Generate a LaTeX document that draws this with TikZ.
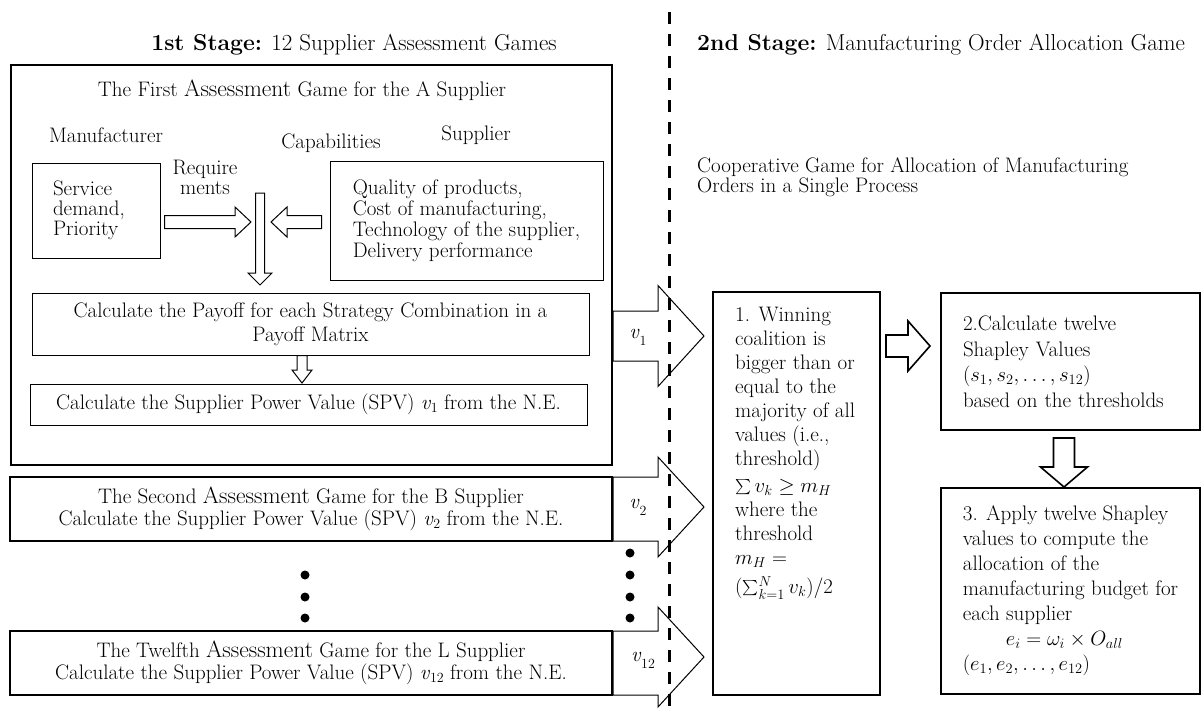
\documentclass[tikz,border=0pt]{standalone}
\usepackage{amsmath,amssymb}
\usepackage{fontspec}
\usepackage{tikz}
\usetikzlibrary{positioning,calc}
\newcommand{\bodyfont}{\fontsize{21}{22}\selectfont}
\newcommand{\titlefont}{\fontsize{23}{26}\selectfont}
\newcommand{\assess}{{\fontsize{23.5}{24}\selectfont Assessment}}
\newcommand{\vsub}[1]{\textit{v}\raisebox{-0.35ex}{\fontsize{14}{14}\selectfont #1}}
\newcommand{\vlabel}[1]{\textit{v}\raisebox{-0.8ex}{\fontsize{14}{14}\selectfont #1}}
\newcommand{\smallsum}{\mathop{\raisebox{0.15ex}{\scalebox{0.72}{$\sum$}}}}
\tikzstyle{gamebox}=[rectangle, draw, line width=2pt, inner sep=0pt, font=\bodyfont]
\tikzstyle{stepbox}=[rectangle, draw, line width=1pt, inner sep=0pt, font=\bodyfont]
\tikzstyle{gamerow}=[rectangle, draw, line width=2pt, inner sep=0pt, align=center, font=\bodyfont]
\tikzstyle{labeltext}=[inner sep=0pt, font=\bodyfont]
\tikzstyle{hollow}=[draw, line width=1pt, line join=miter]
\tikzstyle{stageline}=[line width=3pt, dash pattern=on 12pt off 10pt]
\tikzstyle{bigdot}=[circle, fill=black, minimum size=9pt, inner sep=0pt]
\newcommand{\hollowh}[6][]{%
  \draw[hollow,#1] let \p1=(#2), \p2=(#3), \n1={ifthenelse(\x2>\x1,1,-1)} in
    (\x1,\y1+#4) -- (\x2-\n1*#6,\y1+#4) -- (\x2-\n1*#6,\y2+#5) -- (\x2,\y2)
    -- (\x2-\n1*#6,\y2-#5) -- (\x2-\n1*#6,\y1-#4) -- (\x1,\y1-#4) -- cycle;}
\newcommand{\hollowv}[6][]{%
  \draw[hollow,#1] let \p1=(#2), \p2=(#3), \n1={ifthenelse(\y2>\y1,1,-1)} in
    (\x1+#4,\y1) -- (\x1+#4,\y2-\n1*#6) -- (\x2+#5,\y2-\n1*#6) -- (\x2,\y2)
    -- (\x2-#5,\y2-\n1*#6) -- (\x1-#4,\y2-\n1*#6) -- (\x1-#4,\y1) -- cycle;}
\begin{document}
\begin{tikzpicture}[x=1pt,y=-1pt]
  \useasboundingbox (0,0) rectangle (1202,712);
  \node[labeltext, font=\titlefont] (stage1) at (354,45) {\textbf{1st Stage:} 12 Supplier Assessment Games};
  \node[labeltext, font=\titlefont, anchor=west] (stage2) at (697,45) {\textbf{2nd Stage:} Manufacturing Order Allocation Game};
  \node[gamebox, minimum width=601, minimum height=400] (game1) at (311.5,265) {};
  \node[labeltext] (game1head) at (302,90) {The First \assess{} Game for the A Supplier};
  \node[labeltext] (manu) at (106,135) {Manufacturer};
  \node[labeltext] (capab) at (331,143) {Capabilities};
  \node[labeltext] (supp) at (476,135) {Supplier};
  \node[labeltext, align=center, font=\fontsize{21}{20}\selectfont] (req) at (205,177) {Require\\ments};
  \node[stepbox, minimum width=128, minimum height=95, text width=86, align=left, font=\fontsize{21}{20}\selectfont] (demand) at (96,210.5) {Service\\demand,\\Priority};
  \node[stepbox, minimum width=273, minimum height=119, align=left, font=\fontsize{21}{21}\selectfont] (capset) at (466.5,220.5) {Quality of products,\\Cost of manufacturing,\\Technology of the supplier,\\Delivery performance};
  \node[stepbox, minimum width=557, minimum height=62, align=center, font=\fontsize{21}{24}\selectfont] (payoff) at (310.5,324) {Calculate the Payoff for each Strategy Combination in a\\Payoff Matrix};
  \node[stepbox, minimum width=557, minimum height=41] (spv1) at (308.5,404.5) {Calculate the Supplier Power Value (SPV) \vsub{1} from the N.E.};
  \node[gamerow, minimum width=602, minimum height=64] (game2) at (311,509) {The Second \assess{} Game for the B Supplier\\Calculate the Supplier Power Value (SPV) \vsub{2} from the N.E.};
  \node[gamerow, minimum width=602, minimum height=64] (game12) at (311,663) {The Twelfth \assess{} Game for the L Supplier\\Calculate the Supplier Power Value (SPV) \vsub{12} from the N.E.};
  \foreach \d/\y in {a/575,b/597,c/618} \node[bigdot] (ldot\d) at (305,\y) {};
  \node[labeltext, anchor=west, align=left, font=\fontsize{21}{20}\selectfont] (coop) at (697,177) {Cooperative Game for Allocation of Manufacturing\\Orders in a Single Process};
  \node[gamebox, minimum width=167, minimum height=403] (win) at (796.5,493.5) {};
  \node[labeltext, anchor=north west, align=left, font=\fontsize{21}{24}\selectfont] (wintext) at (735,307) {1. Winning\\coalition is\\bigger than or\\equal to the\\majority of all\\values (i.e.,\\threshold)\\[3pt]$\smallsum v_k \geq m_H$\\where the\\threshold\\$m_H =$\\[5pt]$(\smallsum_{k=1}^{N} v_k)/2$};
  \node[gamebox, minimum width=259, minimum height=137, text width=215, align=left, font=\fontsize{21}{25.5}\selectfont] (shapley) at (1070.5,361.5) {2.Calculate twelve\\Shapley Values\\$(s_1, s_2, \ldots, s_{12})$\\based on the thresholds};
  \node[gamebox, minimum width=259, minimum height=206, align=left, font=\fontsize{21}{25}\selectfont] (apply) at (1070.5,591) {3. Apply twelve Shapley\\values to compute the\\allocation of the\\manufacturing budget for\\each supplier\\\hspace*{43pt}$e_i = \omega_i \times O_{all}$\\$(e_1, e_2, \ldots, e_{12})$};
  \coordinate (reqtip) at (251,222);
  \coordinate (captip) at (271,222);
  \coordinate (merge) at (260,193);
  \coordinate (mergetip) at (260,285);
  \coordinate (paytip) at (302,383);
  \coordinate (v1tip) at (704,336);
  \coordinate (v2tip) at (704,507);
  \coordinate (v12tip) at (704,657);
  \coordinate (wintip) at (930,346);
  \coordinate (shapleytip) at (1064,487);
  \hollowh{$(demand.east |- reqtip)+(4,0)$}{reqtip}{6.5}{15}{16}
  \hollowh{$(capset.west |- captip)+(-8,0)$}{captip}{6.5}{15}{16}
  \hollowv{merge}{mergetip}{4.5}{12}{12}
  \hollowv{payoff.south -| paytip}{paytip}{5}{10}{13}
  \hollowh{game1.east |- v1tip}{v1tip}{25}{50.5}{46}
  \hollowh{game2.east}{v2tip}{32}{50}{46}
  \hollowh{game12.east}{v12tip}{32}{50}{46}
  \hollowh[line width=1.6pt]{$(win.east |- wintip)+(5,0)$}{wintip}{11}{25}{22}
  \hollowv[line width=1.6pt]{$(shapley.south -| shapleytip)+(0,7)$}{shapleytip}{10.5}{23.5}{20}
  \node[labeltext] (lv1) at (638,337) {\vlabel{1}};
  \node[labeltext] (lv2) at (638,507) {\vlabel{2}};
  \node[labeltext] (lv12) at (643,660) {\vlabel{12}};
  \foreach \d/\y in {a/553,b/575,c/597,d/618} \node[bigdot] (rdot\d) at (630,\y) {};
  \coordinate (divtop) at (669,12);
  \coordinate (divbot) at (669,712);
  \draw[stageline] (divtop) -- (divbot);
\end{tikzpicture}
\end{document}
